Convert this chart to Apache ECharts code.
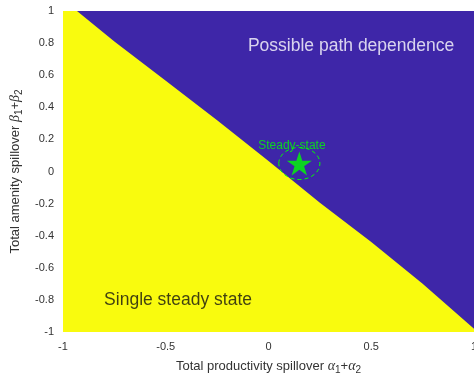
<!DOCTYPE html>
<html>
<head>
<meta charset="utf-8">
<script src="https://cdn.jsdelivr.net/npm/echarts@6/dist/echarts.min.js"></script>
<style>
html,body{margin:0;padding:0;background:#fff;}
#chart{width:474px;height:376px;}
</style>
</head>
<body>
<div id="chart"></div>
<script>
// Boundary between the two regions (region below/left = single steady state)
var boundaryX = [-1, -0.932, -0.75, -0.5, -0.25, 0, 0.25, 0.5, 0.75, 1.0];
var boundaryY = [1, 1, 0.81, 0.565, 0.32, 0.065, -0.195, -0.44, -0.7, -0.98];

// Steady state point and neighbourhood radius
var steadyX = [0.15];
var steadyY = [0.05];
var steadyRadius = [0.1];

// Text annotations (data coordinates)
var annoText = ['Possible path dependence', 'Single steady state', 'Steady-state'];
var annoX = [-0.1, -0.8, -0.05];
var annoY = [0.78, -0.8, 0.16];

// Axis ticks
var xTicks = [-1, -0.5, 0, 0.5, 1];
var yTicks = [-1, -0.8, -0.6, -0.4, -0.2, 0, 0.2, 0.4, 0.6, 0.8, 1];

var PURPLE = '#3e26a8';
var YELLOW = '#f9fb0e';
var GREEN = '#00ff00';
var AXISC = '#333333';
var FONT = '"Liberation Sans", Arial, Helvetica, sans-serif';

function fmt(v) {
  v = Math.round(v * 10) / 10;
  if (v === 0) return '0';
  return String(v);
}

var boundary = boundaryX.map(function (x, i) { return [x, boundaryY[i]]; });
var steady = steadyX.map(function (x, i) { return [x, steadyY[i], steadyRadius[i]]; });

var starPath = 'path://M100,0 L122.45,69.1 L195.1,69.1 L136.3,111.8 L158.8,180.9 L100,138.2 L41.2,180.9 L63.7,111.8 L4.9,69.1 L77.55,69.1 Z';

var chart = echarts.init(document.getElementById('chart'), null, {renderer: 'canvas'});

var richAxis = {
  t: {fontSize: 13, color: AXISC, fontFamily: FONT},
  g: {fontSize: 14, color: AXISC, fontFamily: '"Liberation Serif", "DejaVu Serif", serif', fontStyle: 'italic'},
  s: {fontSize: 10, color: AXISC, fontFamily: FONT, padding: [8, 0, 0, 0]}
};

chart.setOption({
  animation: false,
  backgroundColor: '#ffffff',
  grid: {
    left: 63, right: 0, top: 11, bottom: 44,
    containLabel: false,
    outerBoundsMode: 'none',
    show: true, backgroundColor: PURPLE, borderWidth: 0
  },
  xAxis: {
    type: 'value', min: -1, max: 1, interval: 0.5,
    axisLine: {show: false}, axisTick: {show: false}, splitLine: {show: false},
    axisLabel: {color: AXISC, fontSize: 11, fontFamily: FONT, margin: 9, formatter: fmt},
    name: '{t|Total productivity spillover }{g|α}{s|1}{t|+}{g|α}{s|2}',
    nameLocation: 'middle', nameGap: 25,
    nameTextStyle: {rich: richAxis}
  },
  yAxis: {
    type: 'value', min: -1, max: 1, interval: 0.2,
    axisLine: {show: false}, axisTick: {show: false}, splitLine: {show: false},
    axisLabel: {color: AXISC, fontSize: 11, fontFamily: FONT, margin: 9, formatter: fmt},
    name: '{t|Total amenity spillover }{g|β}{s|1}{t|+}{g|β}{s|2}',
    nameLocation: 'middle', nameGap: 37,
    nameTextStyle: {rich: richAxis}
  },
  series: [
    {
      type: 'line',
      data: boundary,
      symbol: 'none',
      lineStyle: {width: 0},
      areaStyle: {color: YELLOW, opacity: 1, origin: 'start'},
      silent: true,
      z: 1
    },
    {
      type: 'custom',
      data: steady,
      renderItem: function (params, api) {
        var c = api.coord([api.value(0), api.value(1)]);
        var s = api.size([api.value(2), api.value(2)]);
        return {
          type: 'ellipse',
          shape: {cx: c[0], cy: c[1], rx: s[0], ry: s[1]},
          style: {fill: null, stroke: GREEN, lineWidth: 1, lineDash: [4, 3]}
        };
      },
      z: 3
    },
    {
      type: 'scatter',
      data: steady.map(function (d) { return [d[0], d[1]]; }),
      symbol: starPath,
      symbolSize: [25, 24],
      itemStyle: {color: GREEN},
      z: 4
    },
    {
      type: 'scatter',
      symbolSize: 0,
      z: 5,
      label: {
        show: true,
        position: 'right',
        distance: 0,
        fontFamily: FONT,
        formatter: function (p) { return annoText[p.dataIndex]; }
      },
      labelLayout: {hideOverlap: false},
      data: [
        {value: [annoX[0], annoY[0]], label: {color: '#ffffff', fontSize: 17.5}},
        {value: [annoX[1], annoY[1]], label: {color: '#111111', fontSize: 17.5}},
        {value: [annoX[2], annoY[2]], label: {color: GREEN, fontSize: 12}}
      ]
    }
  ]
});
</script>
</body>
</html>
